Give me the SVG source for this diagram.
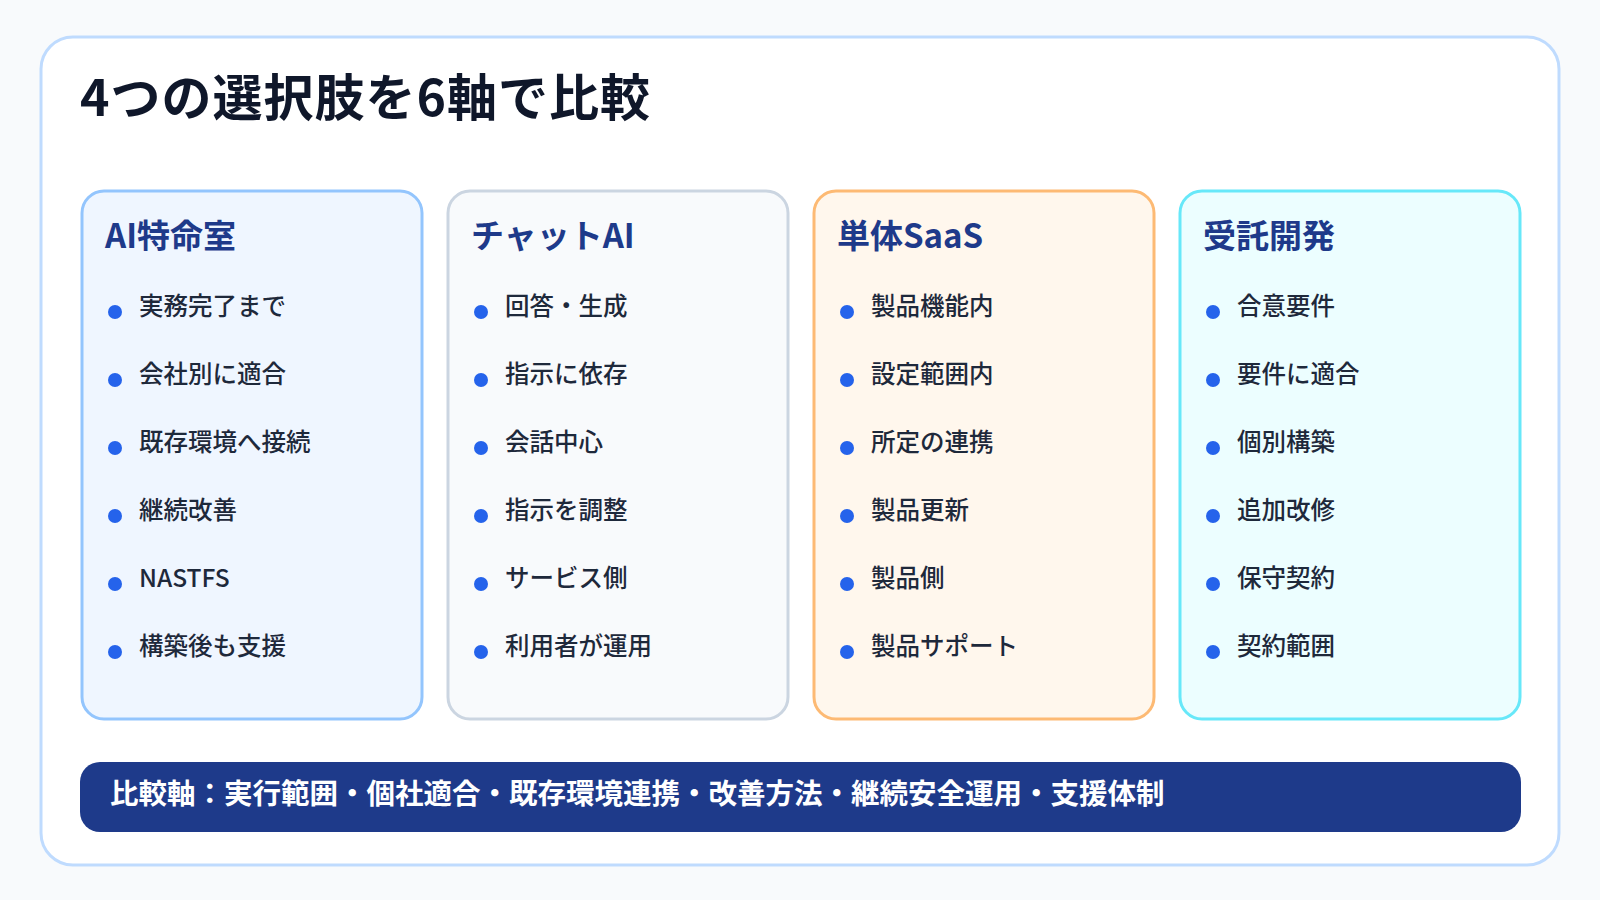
<svg xmlns="http://www.w3.org/2000/svg" width="1600" height="900" viewBox="0 0 1600 900">
<style>
text{font-family:"Noto Sans CJK JP","Noto Sans",sans-serif}
.t{font-size:50px;font-weight:700;fill:#0f172a;letter-spacing:1px}
.h{font-size:33px;font-weight:700;fill:#1e3a8a}
.i{font-size:24.5px;font-weight:500;fill:#1e293b}
.d{fill:#2563eb}
.b{font-size:28.5px;font-weight:700;fill:#ffffff}
</style>
<rect width="1600" height="900" fill="#f8fafc"/>
<rect x="41" y="37" width="1518" height="828" rx="32" fill="#ffffff" stroke="#bfdbfe" stroke-width="3"/>
<text class="t" x="80" y="116">4つの選択肢を6軸で比較</text>
<g id="col1">
<rect x="82" y="191" width="340" height="528" rx="22" fill="#eff6ff" stroke="#93c5fd" stroke-width="3"/>
<text class="h" x="105" y="248">AI特命室</text>
<g class="d"><circle cx="115" cy="312" r="7"/><circle cx="115" cy="380" r="7"/><circle cx="115" cy="448" r="7"/><circle cx="115" cy="516" r="7"/><circle cx="115" cy="584" r="7"/><circle cx="115" cy="652" r="7"/></g>
<text class="i" x="139" y="315">実務完了まで</text><text class="i" x="139" y="383">会社別に適合</text><text class="i" x="139" y="451">既存環境へ接続</text><text class="i" x="139" y="519">継続改善</text><text class="i" x="139" y="587">NASTFS</text><text class="i" x="139" y="655">構築後も支援</text>
</g>
<g id="col2">
<rect x="448" y="191" width="340" height="528" rx="22" fill="#f8fafc" stroke="#cbd5e1" stroke-width="3"/>
<text class="h" x="471" y="248">チャットAI</text>
<g class="d"><circle cx="481" cy="312" r="7"/><circle cx="481" cy="380" r="7"/><circle cx="481" cy="448" r="7"/><circle cx="481" cy="516" r="7"/><circle cx="481" cy="584" r="7"/><circle cx="481" cy="652" r="7"/></g>
<text class="i" x="505" y="315">回答・生成</text><text class="i" x="505" y="383">指示に依存</text><text class="i" x="505" y="451">会話中心</text><text class="i" x="505" y="519">指示を調整</text><text class="i" x="505" y="587">サービス側</text><text class="i" x="505" y="655">利用者が運用</text>
</g>
<g id="col3">
<rect x="814" y="191" width="340" height="528" rx="22" fill="#fff7ed" stroke="#fdba74" stroke-width="3"/>
<text class="h" x="837" y="248">単体SaaS</text>
<g class="d"><circle cx="847" cy="312" r="7"/><circle cx="847" cy="380" r="7"/><circle cx="847" cy="448" r="7"/><circle cx="847" cy="516" r="7"/><circle cx="847" cy="584" r="7"/><circle cx="847" cy="652" r="7"/></g>
<text class="i" x="871" y="315">製品機能内</text><text class="i" x="871" y="383">設定範囲内</text><text class="i" x="871" y="451">所定の連携</text><text class="i" x="871" y="519">製品更新</text><text class="i" x="871" y="587">製品側</text><text class="i" x="871" y="655">製品サポート</text>
</g>
<g id="col4">
<rect x="1180" y="191" width="340" height="528" rx="22" fill="#ecfeff" stroke="#67e8f9" stroke-width="3"/>
<text class="h" x="1203" y="248">受託開発</text>
<g class="d"><circle cx="1213" cy="312" r="7"/><circle cx="1213" cy="380" r="7"/><circle cx="1213" cy="448" r="7"/><circle cx="1213" cy="516" r="7"/><circle cx="1213" cy="584" r="7"/><circle cx="1213" cy="652" r="7"/></g>
<text class="i" x="1237" y="315">合意要件</text><text class="i" x="1237" y="383">要件に適合</text><text class="i" x="1237" y="451">個別構築</text><text class="i" x="1237" y="519">追加改修</text><text class="i" x="1237" y="587">保守契約</text><text class="i" x="1237" y="655">契約範囲</text>
</g>
<g id="bar">
<rect x="80" y="762" width="1441" height="70" rx="20" fill="#1e3a8a"/>
<text class="b" x="110" y="804">比較軸：実行範囲・個社適合・既存環境連携・改善方法・継続安全運用・支援体制</text>
</g>
<g id="connectors"/>
</svg>
